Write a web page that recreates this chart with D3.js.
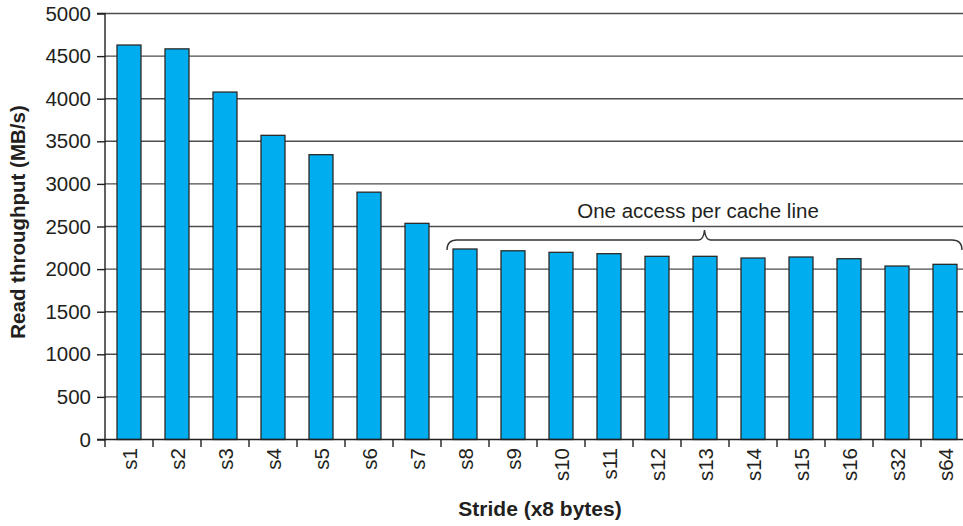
<!DOCTYPE html>
<html><head><meta charset="utf-8">
<script src="https://cdn.jsdelivr.net/npm/d3@7"></script>
<style>
html,body{margin:0;padding:0;background:#fff;}
svg{display:block;font-family:"Liberation Sans",Arial,Helvetica,sans-serif;}
</style></head><body>
<svg id="c" width="963" height="526"></svg>
<script>
const categories = ["s1","s2","s3","s4","s5","s6","s7","s8","s9","s10","s11","s12","s13","s14","s15","s16","s32","s64"];
const throughput = [4630,4585,4078,3570,3343,2903,2537,2236,2215,2197,2181,2150,2150,2130,2142,2122,2036,2056];
const yTicks = [0,500,1000,1500,2000,2500,3000,3500,4000,4500,5000];
const annotationText = "One access per cache line";
const annotationFrom = "s8", annotationTo = "s64";

(function(){
const svg = d3.select("#c");
const pL = 105, pR = 969, pT = 13.5, pB = 439.5;
const textColor = "#231f20";
const fs = 20.5;

const x = d3.scaleBand().domain(categories).range([pL, pR]).paddingInner(0.5).paddingOuter(0.25);
const y = d3.scaleLinear().domain([0, 5000]).range([pB, pT]);

// gridlines
svg.append("g").selectAll("line").data(yTicks.filter(d => d > 0)).join("line")
  .attr("x1", pL).attr("x2", 963)
  .attr("y1", d => y(d)).attr("y2", d => y(d))
  .attr("stroke", "#4d4d4d").attr("stroke-width", 1.4);

// bars
svg.append("g").selectAll("rect").data(categories).join("rect")
  .attr("x", d => x(d))
  .attr("width", x.bandwidth())
  .attr("y", (d, i) => y(throughput[i]))
  .attr("height", (d, i) => y(0) - y(throughput[i]))
  .attr("fill", "#00adee")
  .attr("stroke", "#2a2a2a").attr("stroke-width", 1.3);

// y axis
const yAxis = d3.axisLeft(y).tickValues(yTicks).tickSize(8).tickPadding(6).tickFormat(d3.format("d"));
const gy = svg.append("g").attr("transform", `translate(${pL},0)`).call(yAxis);
gy.select(".domain").attr("stroke", textColor).attr("stroke-width", 1.4).attr("d", `M-8,${pT}H0V${pB}H-8`);
gy.selectAll(".tick line").attr("stroke", textColor).attr("stroke-width", 1.4);
gy.selectAll(".tick text").attr("fill", textColor).attr("font-size", fs).attr("font-family", "Liberation Sans, Arial, sans-serif");

// x axis baseline
svg.append("line").attr("x1", pL).attr("x2", 963).attr("y1", pB).attr("y2", pB)
  .attr("stroke", textColor).attr("stroke-width", 1.4);
// x ticks between bands
const step = x.step();
const bounds = d3.range(categories.length).map(i => pL + i * step);
svg.append("g").selectAll("line").data(bounds).join("line")
  .attr("x1", d => d).attr("x2", d => d).attr("y1", pB).attr("y2", pB + 7.5)
  .attr("stroke", textColor).attr("stroke-width", 1.4);
// x labels
svg.append("g").selectAll("text").data(categories).join("text")
  .attr("transform", d => `translate(${x(d) + x.bandwidth()/2 + 8},${pB + 8.5}) rotate(-90)`)
  .attr("text-anchor", "end")
  .attr("font-size", fs).attr("fill", textColor)
  .text(d => d);

// axis titles
svg.append("text").attr("x", 540).attr("y", 516).attr("text-anchor", "middle")
  .attr("font-size", 21).attr("font-weight", "bold").attr("fill", textColor)
  .text("Stride (x8 bytes)");
svg.append("text").attr("transform", `translate(25,222) rotate(-90)`)
  .attr("text-anchor", "middle")
  .attr("font-size", 20.5).attr("font-weight", "bold").attr("fill", textColor)
  .text("Read throughput (MB/s)");

// brace annotation
const bl = x(annotationFrom) - 6, br = x(annotationTo) + x.bandwidth() + 5;
const bm = (bl + br) / 2;
const hy = 240, ey = 250, ty = 230, r = 10;
const path = `M${bl},${ey} Q${bl},${hy} ${bl+r},${hy} L${bm-6},${hy} Q${bm-1},${hy} ${bm},${ty} Q${bm+1},${hy} ${bm+6},${hy} L${br-r},${hy} Q${br},${hy} ${br},${ey}`;
svg.append("path").attr("d", path).attr("fill", "none").attr("stroke", "#333").attr("stroke-width", 1.4);
svg.append("text").attr("x", 698).attr("y", 218).attr("text-anchor", "middle")
  .attr("font-size", 20.5).attr("fill", textColor).text(annotationText);
})();
</script>
</body></html>
